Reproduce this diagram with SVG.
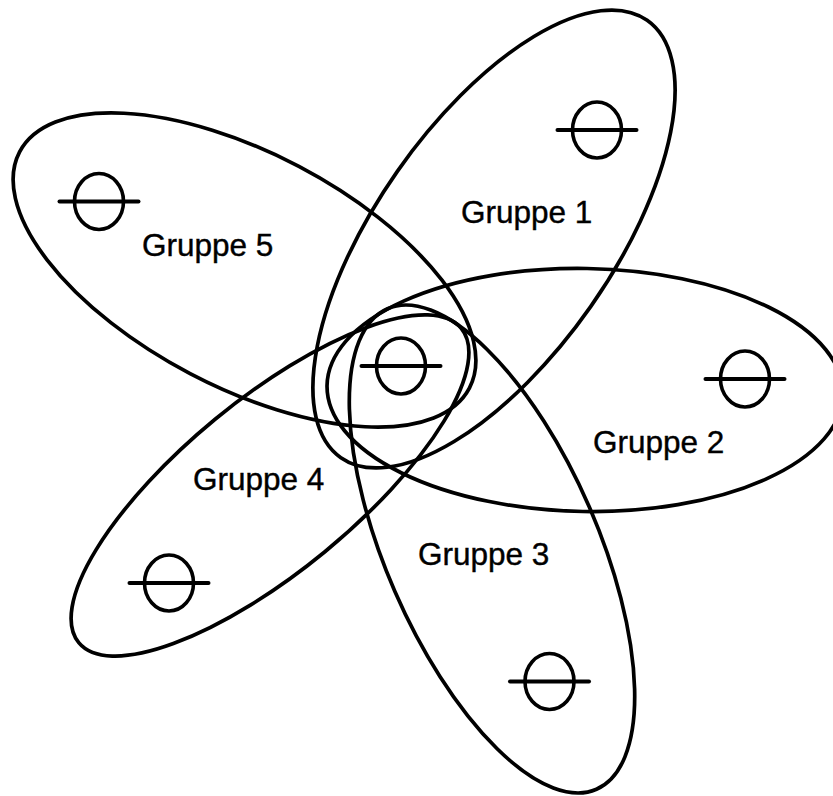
<svg xmlns="http://www.w3.org/2000/svg" width="833" height="796" viewBox="0 0 833 796">
  <defs>
    <style>
      .petal { fill: none; stroke: #000; stroke-width: 3.7; }
      .lbl { font-family: "Liberation Sans", Arial, Helvetica, sans-serif; font-size: 31.5px; fill: #000; stroke: #000; stroke-width: 0.4; }
    </style>
    <g id="sym">
      <ellipse cx="0" cy="0" rx="24.5" ry="28" fill="none" stroke="#000" stroke-width="3.6"/>
      <line x1="-39.5" y1="0" x2="39.5" y2="0" stroke="#000" stroke-width="4" stroke-linecap="round"/>
    </g>
  </defs>
  <rect width="833" height="796" fill="#fff"/>
  <g id="connectors">
    <ellipse id="petal1" class="petal" cx="494" cy="239" rx="267" ry="118" transform="rotate(-55 494 239)"/>
    <ellipse id="petal2" class="petal" cx="585" cy="390" rx="258" ry="121.5" transform="rotate(1 585 390)"/>
    <ellipse id="petal3" class="petal" cx="492" cy="549" rx="262" ry="106" transform="rotate(66.5 492 549)"/>
    <ellipse id="petal4" class="petal" cx="270" cy="485.5" rx="247.5" ry="86" transform="rotate(-39.4 270 485.5)"/>
    <ellipse id="petal5" class="petal" cx="244.5" cy="270" rx="254" ry="117" transform="rotate(27.7 244.5 270)"/>
  </g>
  <g id="node-center"><use href="#sym" x="401" y="366"/></g>
  <g id="node-g1"><use href="#sym" x="597" y="130"/><text class="lbl" x="461" y="223">Gruppe 1</text></g>
  <g id="node-g2"><use href="#sym" x="745" y="379"/><text class="lbl" x="593" y="453">Gruppe 2</text></g>
  <g id="node-g3"><use href="#sym" x="549.5" y="681.5"/><text class="lbl" x="418" y="565">Gruppe 3</text></g>
  <g id="node-g4"><use href="#sym" x="169" y="583"/><text class="lbl" x="193" y="490">Gruppe 4</text></g>
  <g id="node-g5"><use href="#sym" x="99" y="201.5"/><text class="lbl" x="142" y="256">Gruppe 5</text></g>
</svg>
